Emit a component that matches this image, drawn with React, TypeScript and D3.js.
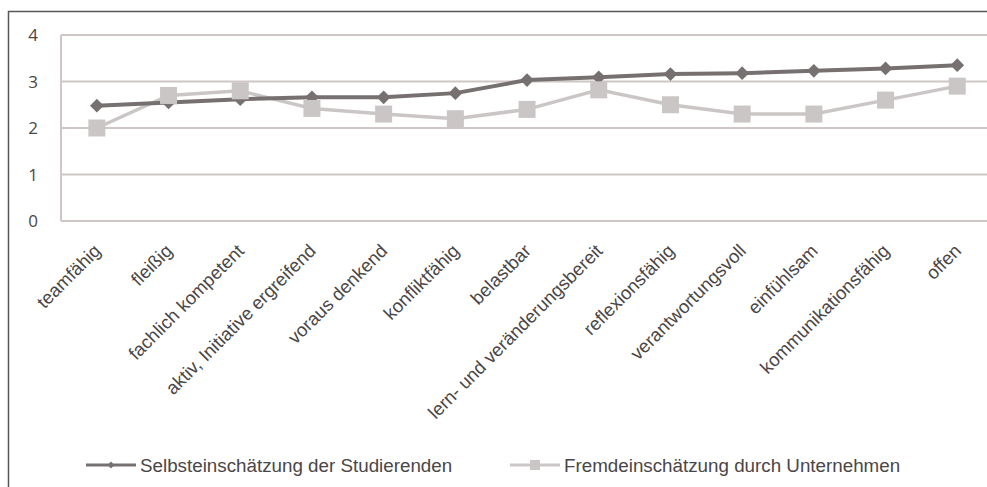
import { useRef, useEffect } from "react";
import * as d3 from "d3";

const categories = [
  "teamfähig",
  "fleißig",
  "fachlich kompetent",
  "aktiv, Initiative ergreifend",
  "voraus denkend",
  "konfliktfähig",
  "belastbar",
  "lern- und veränderungsbereit",
  "reflexionsfähig",
  "verantwortungsvoll",
  "einfühlsam",
  "kommunikationsfähig",
  "offen",
];

const selbst = [2.48, 2.55, 2.62, 2.66, 2.66, 2.75, 3.03, 3.09, 3.16, 3.18, 3.23, 3.28, 3.35];
const fremd = [2.0, 2.7, 2.8, 2.42, 2.3, 2.2, 2.4, 2.82, 2.5, 2.3, 2.3, 2.6, 2.9];

const yTicks = [0, 1, 2, 3, 4];
const seriesNames = ["Selbsteinschätzung der Studierenden", "Fremdeinschätzung durch Unternehmen"];

const W = 987;
const H = 487;
const labelFont = "'Liberation Sans', Arial, sans-serif";

const App = () => {
  const svgRef = useRef<SVGSVGElement>(null);

  useEffect(() => {
    const svg = d3.select(svgRef.current);
    svg.selectAll("*").remove();

    const left = 61;
    const bandW = 71.7;
    const top = 35;
    const bottom = 221;

    const x = d3
      .scaleBand()
      .domain(categories)
      .range([left, left + bandW * categories.length]);
    const y = d3.scaleLinear().domain([0, 4]).range([bottom, top]);
    const cx = (c: string) => (x(c) as number) + x.bandwidth() / 2;

    // outer frame (clipped at right/bottom like the scan)
    svg
      .append("path")
      .attr("d", `M8.5,${H}V11.5H${W}`)
      .attr("fill", "none")
      .attr("stroke", "#5a5656")
      .attr("stroke-width", 1.5);

    // gridlines
    svg
      .append("g")
      .selectAll("line")
      .data(yTicks)
      .enter()
      .append("line")
      .attr("x1", left)
      .attr("x2", W)
      .attr("y1", (d) => y(d))
      .attr("y2", (d) => y(d))
      .attr("stroke", "#cfc6c6")
      .attr("stroke-width", 2);

    svg
      .append("line")
      .attr("x1", left)
      .attr("x2", left)
      .attr("y1", top)
      .attr("y2", bottom)
      .attr("stroke", "#cfc6c6")
      .attr("stroke-width", 2);

    // y tick labels
    svg
      .append("g")
      .selectAll("text")
      .data(yTicks)
      .enter()
      .append("text")
      .attr("x", 33)
      .attr("y", (d) => y(d))
      .attr("dy", "0.36em")
      .attr("text-anchor", "middle")
      .attr("font-family", "'Open Sans', sans-serif")
      .attr("font-size", 17)
      .attr("fill", "#4a4646")
      .text((d) => d);

    // x labels
    svg
      .append("g")
      .selectAll("text")
      .data(categories)
      .enter()
      .append("text")
      .attr("transform", (d) => `translate(${cx(d) + 5},${252}) rotate(-45)`)
      .attr("text-anchor", "end")
      .attr("font-family", labelFont)
      .attr("font-size", 18.5)
      .attr("fill", "#4a4646")
      .text((d) => d);

    const line = d3
      .line<number>()
      .x((_, i) => cx(categories[i]))
      .y((d) => y(d));

    // Fremd series (light squares)
    svg
      .append("path")
      .datum(fremd)
      .attr("d", line)
      .attr("fill", "none")
      .attr("stroke", "#cbc6c6")
      .attr("stroke-width", 3.5);

    // Selbst series (dark diamonds)
    svg
      .append("path")
      .datum(selbst)
      .attr("d", line)
      .attr("fill", "none")
      .attr("stroke", "#777070")
      .attr("stroke-width", 4);

    svg
      .append("g")
      .selectAll("path")
      .data(selbst)
      .enter()
      .append("path")
      .attr("transform", (d, i) => `translate(${cx(categories[i])},${y(d)})`)
      .attr("d", d3.symbol(d3.symbolDiamond2, 120))
      .attr("fill", "#777070");

    svg
      .append("g")
      .selectAll("rect")
      .data(fremd)
      .enter()
      .append("rect")
      .attr("x", (d, i) => cx(categories[i]) - 8.5)
      .attr("y", (d) => y(d) - 8.5)
      .attr("width", 17)
      .attr("height", 17)
      .attr("fill", "#cbc6c6");

    // legend
    const legend = [
      { name: seriesNames[0], x0: 86, color: "#777070", kind: "diamond" },
      { name: seriesNames[1], x0: 510, color: "#cbc6c6", kind: "square" },
    ];
    const lg = svg.append("g");
    legend.forEach((l) => {
      lg.append("line")
        .attr("x1", l.x0)
        .attr("x2", l.x0 + 50)
        .attr("y1", 465)
        .attr("y2", 465)
        .attr("stroke", l.color)
        .attr("stroke-width", 3);
      if (l.kind === "diamond") {
        lg.append("path")
          .attr("transform", `translate(${l.x0 + 25},465)`)
          .attr("d", d3.symbol(d3.symbolDiamond2, 30))
          .attr("fill", l.color);
      } else {
        lg.append("rect")
          .attr("x", l.x0 + 20)
          .attr("y", 460)
          .attr("width", 10)
          .attr("height", 10)
          .attr("fill", l.color);
      }
      lg.append("text")
        .attr("x", l.x0 + 54)
        .attr("y", 465)
        .attr("dy", "0.35em")
        .attr("font-family", labelFont)
        .attr("font-size", 18.8)
        .attr("fill", "#4a4646")
        .text(l.name);
    });
  }, []);

  return (
    <svg
      ref={svgRef}
      width={W}
      height={H}
      style={{ position: "absolute", left: 0, top: 0, background: "white" }}
    ></svg>
  );
};

export default App;
